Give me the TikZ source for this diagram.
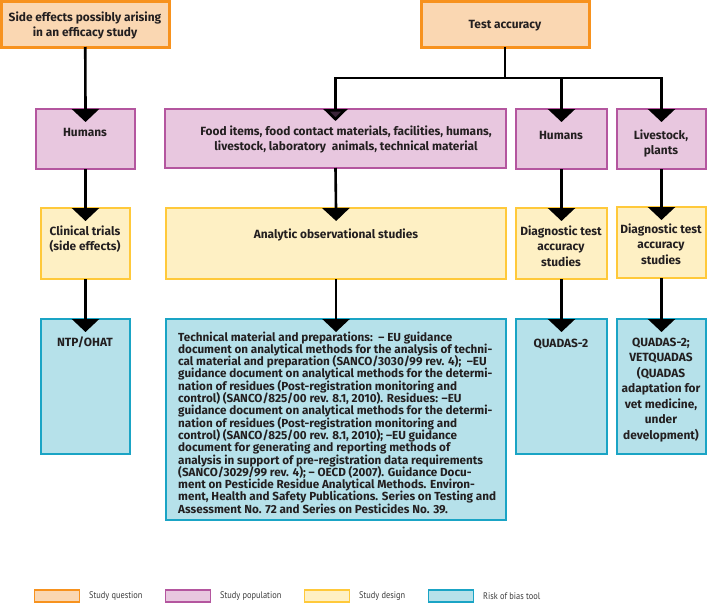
\documentclass[tikz,border=0pt]{standalone}
\usepackage{fontspec}
\setmainfont{Fira Sans}
\newfontfamily\legfont{PT Sans}
\usetikzlibrary{arrows.meta}
\definecolor{orB}{HTML}{F7921E}
\definecolor{orF}{HTML}{FAD7B2}
\definecolor{puB}{HTML}{B4569F}
\definecolor{puF}{HTML}{E8C7DF}
\definecolor{yeB}{HTML}{FFC93A}
\definecolor{yeF}{HTML}{FEF0C4}
\definecolor{blB}{HTML}{1AA4C5}
\definecolor{blF}{HTML}{B6E1EA}
\definecolor{tx}{HTML}{231F20}
\definecolor{lg}{HTML}{3A3A3A}
\definecolor{dpu}{HTML}{3A2438}
\newcommand{\bx}[6]{\node[#1, minimum width={#5-#3}, minimum height={#6-#4}] (#2) at ({(#3+#5)/2},{(#4+#6)/2}) {};}
\begin{document}
\begin{tikzpicture}[x=1pt,y=-1pt,
  box/.style={draw, line width=2.4pt, inner sep=0pt, outer sep=0pt},
  qbox/.style={box, draw=orB, fill=orF, line width=3pt},
  pbox/.style={box, draw=puB, fill=puF},
  dbox/.style={box, draw=yeB, fill=yeF},
  rbox/.style={box, draw=blB, fill=blF},
  txt/.style={font=\fontsize{11.9}{15.5}\selectfont\bfseries, text=tx, inner sep=0pt, anchor=base},
  small/.style={font=\fontsize{11.7}{12.3}\selectfont\bfseries, text=tx, inner sep=0pt, anchor=base west},
  conn/.style={line width=2.6pt, draw=black},
  arr/.style={conn, -{Triangle[width=27pt,length=13pt]}, shorten >=-13pt},
  lbox/.style={draw, line width=1.2pt, minimum width=45pt, minimum height=12pt, inner sep=0pt},
  ltxt/.style={font=\legfont\fontsize{9.5}{11}\selectfont, text=lg, inner sep=0pt, anchor=west}
]
\useasboundingbox (0,0) rectangle (709,603);
% boxes
\bx{qbox}{q1}{1.5}{1.5}{169}{47}
\bx{qbox}{q2}{421}{1.5}{589}{47}
\bx{pbox}{p1}{36}{109}{135}{169}
\bx{pbox}{p2}{165}{109}{506}{168}
\bx{pbox}{p3}{516}{109}{607}{169}
\bx{pbox}{p4}{617}{109}{706}{169}
\bx{dbox}{d1}{41}{208}{130}{279}
\bx{dbox}{d2}{166}{208}{506}{279}
\bx{dbox}{d3}{516}{208}{607}{279}
\bx{dbox}{d4}{617}{207}{706}{278}
\bx{rbox}{r1}{41}{319}{130}{454}
\bx{rbox}{r2}{166}{319}{506}{520}
\bx{rbox}{r3}{516}{319}{607}{454}
\bx{rbox}{r4}{617}{319}{706}{454}
% texts
\node[txt] (t-q1) at (85,21) {\begin{tabular}[t]{@{}c@{}}Side effects possibly arising\\in an efficacy study\end{tabular}};
\node[txt] (t-q2) at (505,28) {Test accuracy};
\node[txt] (t-p1) at (85,136) {Humans};
\node[txt] (t-p2) at (346,135) {\begin{tabular}[t]{@{}c@{}}Food items, food contact materials, facilities, humans,\\livestock, laboratory\ \ animals, technical material\end{tabular}};
\node[txt] (t-p3) at (561,139) {Humans};
\node[txt] (t-p4) at (661,139) {\begin{tabular}[t]{@{}c@{}}Livestock,\\plants\end{tabular}};
\node[txt] (t-d1) at (85,235) {\begin{tabular}[t]{@{}c@{}}Clinical trials\\(side effects)\end{tabular}};
\node[txt] (t-d2) at (336,238) {Analytic observational studies};
\node[txt] (t-d3) at (561,235) {\begin{tabular}[t]{@{}c@{}}Diagnostic test\\accuracy\\studies\end{tabular}};
\node[txt] (t-d4) at (661,233) {\begin{tabular}[t]{@{}c@{}}Diagnostic test\\accuracy\\studies\end{tabular}};
\node[txt] (t-r1) at (85,346) {NTP/OHAT};
\node[txt] (t-r3) at (561,347) {QUADAS-2};
\node[txt] (t-r4) at (661,346) {\begin{tabular}[t]{@{}c@{}}QUADAS-2;\\VETQUADAS\\(QUADAS\\adaptation for\\vet medicine,\\under\\development)\end{tabular}};
\node[small] (t-r2) at (178,341) {\parbox[t]{325pt}{\raggedright\lineskiplimit=-20pt\lineskip=0pt
Technical material and preparations:\ \ – EU guidance\\
document on analytical methods for the analysis of techni-\\
cal material and preparation (SANCO/3030/99 rev. 4);\ \ –EU\\
guidance document on analytical methods for the determi-\\
nation of residues (Post-registration monitoring and\\
control) (SANCO/825/00 rev. 8.1, 2010). Residues: –EU\\
guidance document on analytical methods for the determi-\\
nation of residues (Post-registration monitoring and\\
control) (SANCO/825/00 rev. 8.1, 2010); –EU guidance\\
document for generating and reporting methods of\\
analysis in support of pre-registration data requirements\\
(SANCO/3029/99 rev. 4); – OECD (2007). Guidance Docu-\\
ment on Pesticide Residue Analytical Methods. Environ-\\
ment, Health and Safety Publications. Series on Testing and\\
Assessment No. 72 and Series on Pesticides No. 39.}};
% connectors
\coordinate (bus) at (0,78);
\draw[arr] (q1.south) -- (p1.north);
\draw[arr] (p1.south) -- (d1.north);
\draw[arr] (d1.south) -- (r1.north);
\draw[conn] (q2.south) -- (q2.south |- bus);
\draw[conn, line cap=rect] (p2.north |- bus) -- (p4.north |- bus);
\draw[arr, -{Triangle[width=24pt,length=12pt,fill=dpu]}, shorten >=-12pt] (p2.north |- bus) -- (p2.north);
\draw[arr] (p3.north |- bus) -- (p3.north);
\draw[arr] (p4.north |- bus) -- (p4.north);
\draw[arr] (p2.south) -- (d2.north);
\draw[arr] (d2.south) -- (r2.north);
\draw[arr] (p3.south) -- (d3.north);
\draw[arr] (d3.south) -- (r3.north);
\draw[arr] (p4.south) -- (d4.north);
\draw[arr] (d4.south) -- (r4.north);
% legend
\node[lbox, draw=orB, fill=orF] (l1) at (57,596) {};
\node[ltxt] (lt1) at (89,596) {\scalebox{0.88}[1]{Study question}};
\node[lbox, draw=puB, fill=puF] (l2) at (188,596) {};
\node[ltxt] (lt2) at (220,596) {\scalebox{0.88}[1]{Study population}};
\node[lbox, draw=yeB, fill=yeF] (l3) at (327,596) {};
\node[ltxt] (lt3) at (359,596) {\scalebox{0.88}[1]{Study design}};
\node[lbox, draw=blB, fill=blF] (l4) at (451,596) {};
\node[ltxt] (lt4) at (483,596) {\scalebox{0.88}[1]{Risk of bias tool}};
\end{tikzpicture}
\end{document}
